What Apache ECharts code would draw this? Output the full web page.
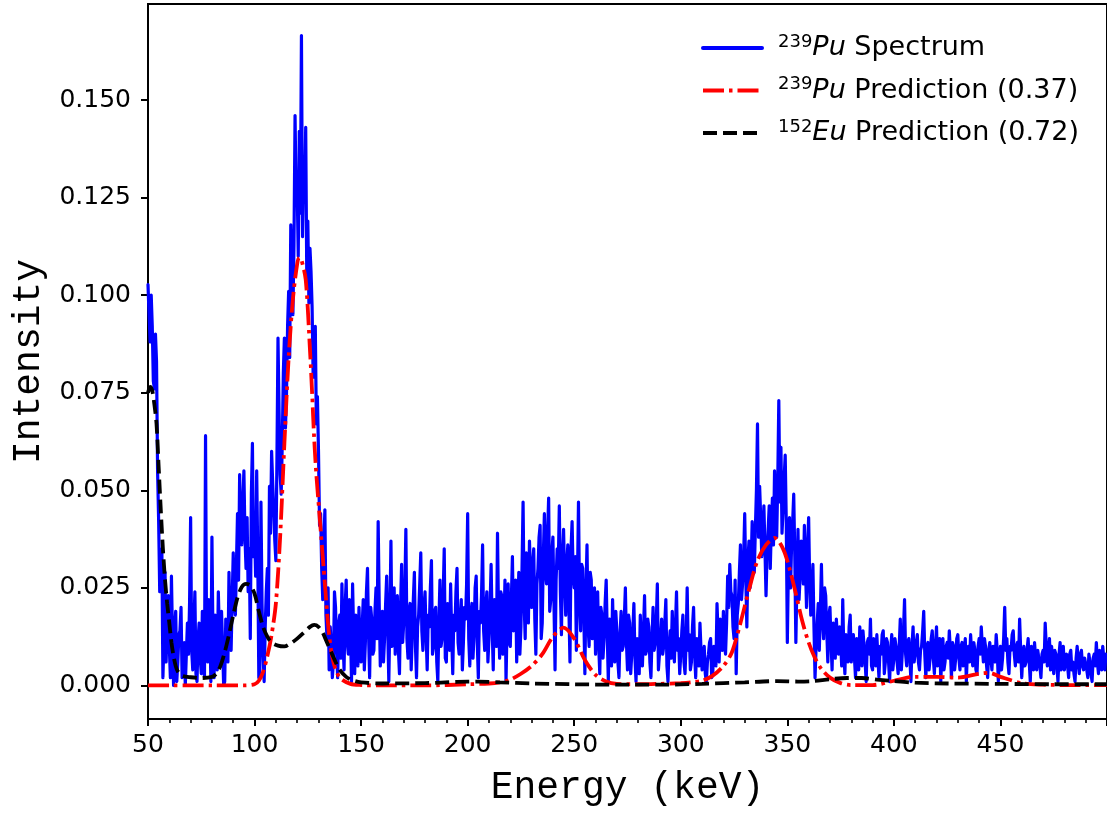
<!DOCTYPE html>
<html>
<head>
<meta charset="utf-8">
<script src="https://cdn.jsdelivr.net/npm/echarts@6.0.0/dist/echarts.min.js"></script>
<style>
html,body{margin:0;padding:0;background:#fff;}
#chart{width:1107px;height:813px;}
</style>
</head>
<body>
<div id="chart"></div>
<script>
// ---- Data ----
const spectrumStartKeV = 50;   // first channel
const spectrumStepKeV = 0.5;   // channel width
const spectrumValues = [
  0.1027,0.095,0.088,0.100,0.092,0.078,0.076,0.090,0.083,0.055,0.042,0.024,0.030,0.035,0.002,0.012,0.029,0.006,0.016,0.023,
  0.010,0.002,0.028,0.012,0.000,0.015,0.019,0.001,0.006,0.013,0.014,0.020,0.002,0.004,0.011,0.000,0.000,0.016,0.008,0.021,
  0.043,0.009,0.004,0.015,0.024,0.003,0.001,0.012,0.016,0.007,0.003,0.019,0.013,0.002,0.064,0.010,0.006,0.022,0.017,0.001,
  0.038,0.011,0.002,0.018,0.012,0.004,0.024,0.013,0.005,0.019,0.010,0.000,0.001,0.017,0.014,0.006,0.029,0.015,0.009,0.022,
  0.034,0.021,0.018,0.031,0.044,0.027,0.054,0.040,0.036,0.047,0.055,0.038,0.030,0.043,0.024,0.035,0.012,0.049,0.062,0.033,
  0.040,0.028,0.055,0.033,0.002,0.004,0.047,0.021,0.008,0.001,0.015,0.024,0.030,0.018,0.051,0.039,0.060,0.052,0.045,0.037,
  0.032,0.058,0.089,0.070,0.054,0.049,0.062,0.080,0.089,0.066,0.075,0.092,0.101,0.084,0.118,0.104,0.095,0.113,0.146,0.125,
  0.128,0.110,0.142,0.121,0.1665,0.115,0.132,0.124,0.143,0.105,0.119,0.098,0.112,0.106,0.097,0.079,0.085,0.092,0.067,0.074,
  0.060,0.041,0.044,0.030,0.022,0.036,0.045,0.018,0.012,0.025,0.004,0.015,0.010,0.002,0.006,0.024,0.020,0.009,0.002,0.016,
  0.018,0.007,0.026,0.012,0.004,0.020,0.027,0.011,0.008,0.022,0.015,0.001,0.026,0.013,0.003,0.018,0.014,0.005,0.020,0.010,
  0.006,0.015,0.022,0.004,0.011,0.024,0.030,0.013,0.002,0.020,0.017,0.008,0.009,0.019,0.025,0.012,0.042,0.021,0.005,0.016,
  0.019,0.006,0.012,0.021,0.028,0.014,0.001,0.017,0.037,0.010,0.014,0.025,0.008,0.018,0.023,0.009,0.003,0.020,0.031,0.011,
  0.016,0.024,0.040,0.012,0.007,0.019,0.021,0.004,0.013,0.022,0.029,0.010,0.002,0.015,0.018,0.026,0.034,0.014,0.009,0.020,
  0.024,0.013,0.004,0.018,0.015,0.025,0.032,0.008,0.010,0.019,0.020,0.006,0.001,0.016,0.027,0.010,0.012,0.023,0.035,0.007,
  0.006,0.021,0.019,0.009,0.026,0.013,0.003,0.018,0.014,0.024,0.030,0.011,0.008,0.017,0.022,0.004,0.011,0.020,0.017,0.026,
  0.044,0.012,0.005,0.018,0.021,0.007,0.013,0.025,0.028,0.011,0.002,0.019,0.016,0.023,0.036,0.014,0.009,0.020,0.024,0.006,
  0.012,0.020,0.031,0.015,0.004,0.022,0.019,0.010,0.039,0.017,0.007,0.024,0.023,0.008,0.014,0.027,0.001,0.016,0.026,0.011,
  0.010,0.022,0.033,0.014,0.018,0.027,0.006,0.019,0.029,0.008,0.015,0.030,0.047,0.021,0.012,0.034,0.024,0.016,0.037,0.028,
  0.020,0.031,0.035,0.017,0.008,0.026,0.030,0.038,0.041,0.012,0.016,0.033,0.044,0.029,0.026,0.039,0.048,0.019,0.022,0.034,
  0.038,0.021,0.004,0.027,0.035,0.030,0.046,0.024,0.013,0.033,0.040,0.027,0.018,0.031,0.036,0.020,0.006,0.035,0.042,0.028,
  0.025,0.033,0.009,0.026,0.047,0.022,0.014,0.031,0.030,0.018,0.003,0.024,0.036,0.015,0.010,0.029,0.027,0.012,0.019,0.025,
  0.008,0.016,0.024,0.010,0.003,0.020,0.018,0.007,0.012,0.021,0.027,0.013,0.001,0.017,0.015,0.005,0.022,0.011,0.006,0.019,
  0.014,0.006,0.002,0.013,0.019,0.009,0.010,0.017,0.025,0.011,0.004,0.018,0.016,0.003,0.008,0.014,0.021,0.007,0.001,0.012,
  0.012,0.003,0.018,0.010,0.005,0.014,0.023,0.008,0.009,0.017,0.015,0.006,0.002,0.012,0.020,0.009,0.011,0.016,0.026,0.004,
  0.004,0.012,0.017,0.008,0.010,0.016,0.022,0.005,0.001,0.010,0.014,0.007,0.019,0.011,0.006,0.015,0.024,0.009,0.012,0.003,
  0.008,0.014,0.018,0.006,0.003,0.011,0.025,0.009,0.013,0.004,0.006,0.015,0.020,0.008,0.002,0.012,0.011,0.005,0.016,0.009,
  0.004,0.007,0.010,0.003,0.001,0.006,0.008,0.011,0.012,0.002,0.003,0.010,0.009,0.005,0.021,0.013,0.006,0.017,0.014,0.009,
  0.019,0.011,0.008,0.016,0.028,0.020,0.031,0.024,0.023,0.015,0.012,0.027,0.003,0.018,0.021,0.029,0.036,0.022,0.026,0.033,
  0.044,0.028,0.015,0.032,0.037,0.025,0.030,0.042,0.036,0.029,0.040,0.050,0.067,0.038,0.051,0.043,0.033,0.039,0.046,0.035,
  0.023,0.034,0.040,0.046,0.030,0.041,0.048,0.036,0.055,0.044,0.038,0.052,0.073,0.047,0.061,0.039,0.045,0.053,0.059,0.042,
  0.011,0.030,0.043,0.025,0.036,0.042,0.049,0.033,0.011,0.027,0.040,0.022,0.028,0.037,0.034,0.026,0.041,0.031,0.020,0.035,
  0.043,0.026,0.018,0.024,0.031,0.015,0.002,0.010,0.016,0.021,0.009,0.019,0.031,0.017,0.012,0.025,0.023,0.014,0.006,0.018,
  0.020,0.011,0.004,0.016,0.014,0.007,0.017,0.012,0.008,0.015,0.012,0.005,0.022,0.009,0.003,0.013,0.010,0.006,0.015,0.018,
  0.006,0.010,0.013,0.007,0.002,0.012,0.011,0.004,0.015,0.009,0.005,0.014,0.010,0.006,0.001,0.011,0.012,0.008,0.017,0.005,
  0.004,0.012,0.009,0.005,0.013,0.007,0.002,0.010,0.008,0.013,0.014,0.003,0.006,0.012,0.011,0.006,0.001,0.009,0.013,0.004,
  0.007,0.012,0.010,0.006,0.003,0.010,0.017,0.004,0.009,0.014,0.022,0.008,0.005,0.011,0.012,0.007,0.001,0.010,0.015,0.006,
  0.008,0.011,0.013,0.006,0.004,0.009,0.010,0.014,0.019,0.008,0.002,0.010,0.011,0.004,0.007,0.012,0.014,0.007,0.003,0.010,
  0.015,0.005,0.009,0.012,0.001,0.008,0.012,0.004,0.006,0.010,0.011,0.007,0.014,0.009,0.002,0.011,0.010,0.004,0.007,0.012,
  0.013,0.007,0.004,0.010,0.011,0.005,0.008,0.012,0.001,0.009,0.010,0.006,0.013,0.008,0.005,0.011,0.009,0.004,0.003,0.010,
  0.012,0.008,0.015,0.010,0.006,0.012,0.010,0.005,0.002,0.009,0.011,0.007,0.004,0.010,0.008,0.006,0.013,0.009,0.001,0.007,
  0.010,0.004,0.007,0.012,0.020,0.009,0.012,0.006,0.003,0.010,0.009,0.013,0.014,0.008,0.005,0.010,0.011,0.006,0.017,0.009,
  0.002,0.008,0.010,0.005,0.006,0.009,0.012,0.006,0.001,0.010,0.008,0.004,0.011,0.007,0.004,0.009,0.007,0.005,0.002,0.008,
  0.009,0.006,0.016,0.010,0.005,0.008,0.012,0.004,0.010,0.007,0.003,0.009,0.008,0.005,0.001,0.008,0.011,0.004,0.006,0.010,
  0.004,0.007,0.008,0.005,0.002,0.008,0.009,0.004,0.006,0.003,0.001,0.007,0.010,0.006,0.003,0.008,0.009,0.005,0.004,0.007,
  0.007,0.004,0.002,0.008,0.006,0.003,0.001,0.007,0.008,0.005,0.011,0.006,0.003,0.009,0.006,0.004,0.010,0.007,0.004,0.008
];

const puPredEnergy = [50,60,70,80,90,95,100,102,104,106,108,110,112,114,116,118,120,121,122,124,126,127,128,129,131,133,135,137,140,145,150,160,180,200,210,215,220,225,230,235,240,245,250,255,260,265,270,280,290,300,305,310,315,320,324,328,332,336,340,344,348,351,354,357,360,363,366,370,375,380,390,400,410,420,430,440,445,450,460,470,480,500];
const puPredValues = [0,0,0,0,0,0,0.0003,0.0012,0.0035,0.0075,0.013,0.021,0.038,0.062,0.084,0.099,0.108,0.1096,0.109,0.104,0.086,0.075,0.063,0.054,0.040,0.026,0.013,0.006,0.002,0.0004,0.0001,0,0,0.0003,0.0005,0.0008,0.0015,0.0030,0.0050,0.0080,0.0125,0.0148,0.0120,0.0065,0.0027,0.0010,0.0004,0.0003,0.0004,0.0006,0.0008,0.0012,0.0025,0.0050,0.0085,0.0160,0.0245,0.0320,0.0360,0.0378,0.0350,0.0300,0.0235,0.0165,0.0110,0.0070,0.0042,0.0020,0.0006,0.0001,0.0001,0.0012,0.0022,0.0022,0.0020,0.0030,0.0032,0.0022,0.0006,0.0002,0.0001,0.0001];

const euPredEnergy = [50,51,52,53,54,55,56,57,58,59,60,61,62,63,64,66,70,75,80,82,84,86,88,90,92,94,96,98,100,102,104,106,108,111,114,117,120,123,126,128,130,132,134,136,138,140,143,146,150,160,180,195,205,215,230,250,270,290,310,330,345,355,362,370,378,385,392,400,410,425,450,475,500];
const euPredValues = [0.075,0.0765,0.0755,0.072,0.067,0.056,0.045,0.035,0.027,0.021,0.016,0.011,0.0075,0.005,0.0036,0.0025,0.0021,0.0019,0.0022,0.0030,0.0050,0.0085,0.0130,0.0180,0.0225,0.0252,0.0260,0.0256,0.0235,0.0190,0.0150,0.0125,0.0110,0.0102,0.0100,0.0108,0.0120,0.0135,0.0150,0.0155,0.0150,0.0135,0.0110,0.0085,0.0060,0.0040,0.0022,0.0013,0.0008,0.0005,0.0006,0.0009,0.0010,0.0008,0.0005,0.0003,0.0002,0.0002,0.0004,0.0008,0.0011,0.0010,0.0011,0.0016,0.0019,0.0019,0.0015,0.0011,0.0007,0.0005,0.0004,0.0003,0.0003];

const yTickValues = [0, 0.025, 0.05, 0.075, 0.1, 0.125, 0.15];
const seriesNames = ['239Pu Spectrum', '239Pu Prediction (0.37)', '152Eu Prediction (0.72)'];
const legendRich = {
  '239Pu Spectrum': '{sup|239}{it|Pu}{n| Spectrum}',
  '239Pu Prediction (0.37)': '{sup|239}{it|Pu}{n| Prediction (0.37)}',
  '152Eu Prediction (0.72)': '{sup|152}{it|Eu}{n| Prediction (0.72)}'
};

// ---- Build ----
const spectrumData = spectrumValues.map((v, i) => [spectrumStartKeV + i * spectrumStepKeV, v]);
const zip = (xs, ys) => xs.slice(0, Math.min(xs.length, ys.length)).map((x, i) => [x, ys[i]]);

const SANS = 'DejaVu Sans';
const MONO = 'Liberation Mono';

const chart = echarts.init(document.getElementById('chart'), null, {renderer: 'canvas'});
chart.setOption({
  animation: false,
  backgroundColor: '#ffffff',
  grid: {left: 148, top: 4, right: -2, bottom: 94, show: true, borderColor: '#000', borderWidth: 2, backgroundColor: 'transparent', containLabel: false},
  legend: {
    orient: 'vertical',
    left: 696, top: 28,
    itemWidth: 59, itemHeight: 14, itemGap: 14,
    data: seriesNames,
    formatter: name => legendRich[name],
    itemStyle: {color: 'rgba(0,0,0,0)', borderColor: 'rgba(0,0,0,0)', borderWidth: 0, opacity: 0},
    lineStyle: {width: 4},
    textStyle: {
      color: '#000',
      padding: [0, 0, 0, 11],
      rich: {
        sup: {fontSize: 18, fontFamily: SANS, verticalAlign: 'top', lineHeight: 18, color: '#000'},
        it: {fontSize: 27, fontFamily: SANS, fontStyle: 'italic', lineHeight: 30, color: '#000'},
        n: {fontSize: 27, fontFamily: SANS, lineHeight: 30, color: '#000'}
      }
    }
  },
  xAxis: {
    type: 'value', min: 50, max: 500, interval: 50,
    name: 'Energy (keV)', nameLocation: 'middle', nameGap: 50,
    nameTextStyle: {fontFamily: MONO, fontSize: 38, color: '#000'},
    axisLine: {show: true, onZero: false, lineStyle: {color: '#000', width: 2}},
    axisTick: {show: true, inside: false, length: 7, lineStyle: {color: '#000', width: 2}},
    minorTick: {show: true, splitNumber: 5, length: 4, lineStyle: {color: '#000', width: 1.6}},
    axisLabel: {fontFamily: SANS, fontSize: 25, color: '#000', margin: 14, showMaxLabel: false},
    splitLine: {show: false}, minorSplitLine: {show: false}
  },
  yAxis: {
    type: 'value', min: -0.0086, max: 0.1746,
    name: 'Intensity', nameLocation: 'middle', nameGap: 100, nameRotate: 90,
    nameTextStyle: {fontFamily: MONO, fontSize: 38, color: '#000'},
    axisLine: {show: true, onZero: false, lineStyle: {color: '#000', width: 2}},
    axisTick: {show: true, inside: false, length: 7, lineStyle: {color: '#000', width: 2}, customValues: yTickValues},
    axisLabel: {fontFamily: SANS, fontSize: 25, color: '#000', margin: 17, customValues: yTickValues, formatter: v => v.toFixed(3)},
    splitLine: {show: false}
  },
  series: [
    {
      name: seriesNames[0], type: 'line', data: spectrumData,
      showSymbol: false, symbol: 'none', z: 2,
      lineStyle: {color: '#0000ff', width: 3.2, join: 'round', cap: 'round'},
      itemStyle: {color: '#0000ff'}
    },
    {
      name: seriesNames[1], type: 'line', data: zip(puPredEnergy, puPredValues),
      showSymbol: false, symbol: 'none', smooth: 0.3, z: 3,
      lineStyle: {color: '#ff0000', width: 3.8, type: [21, 5, 3.5, 5], cap: 'butt'},
      itemStyle: {color: '#ff0000'}
    },
    {
      name: seriesNames[2], type: 'line', data: zip(euPredEnergy, euPredValues),
      showSymbol: false, symbol: 'none', smooth: 0.3, z: 4,
      lineStyle: {color: '#000000', width: 3.8, type: [14, 6], cap: 'butt'},
      itemStyle: {color: '#000000'}
    }
  ]
});
</script>
</body>
</html>
